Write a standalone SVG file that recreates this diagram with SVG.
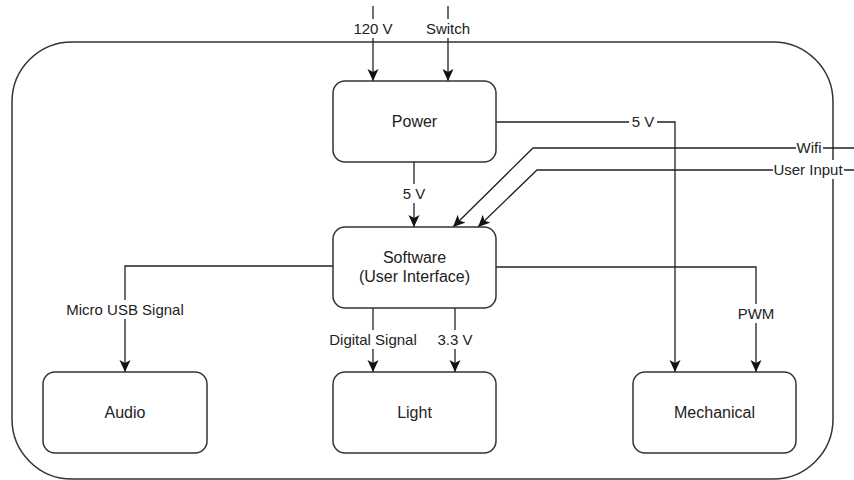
<svg xmlns="http://www.w3.org/2000/svg" width="854" height="480" viewBox="0 0 854 480">
<defs>
<marker id="arr" viewBox="0 0 12 12" refX="12" refY="6" markerWidth="12" markerHeight="12" markerUnits="userSpaceOnUse" orient="auto">
<path d="M0,0.5 L12,6 L0,11.5 L3,6 Z" fill="#111"/>
</marker>
<style>
.box{fill:#fff;stroke:#333;stroke-width:1.5}
.frame{fill:none;stroke:#333;stroke-width:1.5}
.ln{fill:none;stroke:#222;stroke-width:1.3}
.ar{marker-end:url(#arr)}
.t{font-family:"Liberation Sans",Arial,Helvetica,sans-serif;font-size:16px;fill:#222;text-anchor:middle}
.lt{font-family:"Liberation Sans",Arial,Helvetica,sans-serif;font-size:15px;fill:#222;text-anchor:middle}
.bg{fill:#fff}
</style>
</defs>
<rect width="854" height="480" fill="#fff"/>
<rect id="frame" class="frame" x="12" y="42" width="821" height="437" rx="60" ry="60"/>
<g id="connectors">
<path class="ln ar" d="M373,6 V81"/>
<path class="ln ar" d="M448,6 V81"/>
<path class="ln ar" d="M414,162 V227"/>
<path class="ln ar" d="M496,122 H675 V372"/>
<path class="ln ar" d="M854,148 H533 L453,227"/>
<path class="ln ar" d="M854,170 H537 L478,227"/>
<path class="ln ar" d="M333,266 H125 V372"/>
<path class="ln ar" d="M373,308 V372"/>
<path class="ln ar" d="M455,308 V372"/>
<path class="ln ar" d="M496,267 H756 V372"/>
<g id="labels">
<rect class="bg" x="351" y="19" width="44" height="19"/>
<text class="lt" x="373" y="34">120 V</text>
<rect class="bg" x="424" y="19" width="48" height="19"/>
<text class="lt" x="448" y="34">Switch</text>
<rect class="bg" x="400" y="184" width="28" height="19"/>
<text class="lt" x="414" y="199">5 V</text>
<rect class="bg" x="629" y="112" width="28" height="19"/>
<text class="lt" x="643" y="127">5 V</text>
<rect class="bg" x="796" y="138" width="27" height="19"/>
<text class="lt" x="809" y="153">Wifi</text>
<rect class="bg" x="773" y="160" width="71" height="19"/>
<text class="lt" x="808" y="175">User Input</text>
<rect class="bg" x="66" y="300" width="118" height="19"/>
<text class="lt" x="125" y="315">Micro USB Signal</text>
<rect class="bg" x="327" y="330" width="92" height="19"/>
<text class="lt" x="373" y="345">Digital Signal</text>
<rect class="bg" x="435" y="330" width="40" height="19"/>
<text class="lt" x="455" y="345">3.3 V</text>
<rect class="bg" x="735" y="304" width="42" height="19"/>
<text class="lt" x="756" y="319">PWM</text>
</g>
</g>
<g id="power">
<rect class="box" x="333" y="81" width="163" height="81" rx="12"/>
<text class="t" x="414.5" y="127">Power</text>
</g>
<g id="software">
<rect class="box" x="333" y="227" width="163" height="81" rx="12"/>
<text class="t" x="414.5" y="263">Software</text>
<text class="t" x="414.5" y="282">(User Interface)</text>
</g>
<g id="audio">
<rect class="box" x="43" y="372" width="164" height="81" rx="12"/>
<text class="t" x="125" y="418">Audio</text>
</g>
<g id="light">
<rect class="box" x="333" y="372" width="163" height="81" rx="12"/>
<text class="t" x="414.5" y="418">Light</text>
</g>
<g id="mechanical">
<rect class="box" x="633" y="372" width="163" height="81" rx="12"/>
<text class="t" x="714.5" y="418">Mechanical</text>
</g>
</svg>
